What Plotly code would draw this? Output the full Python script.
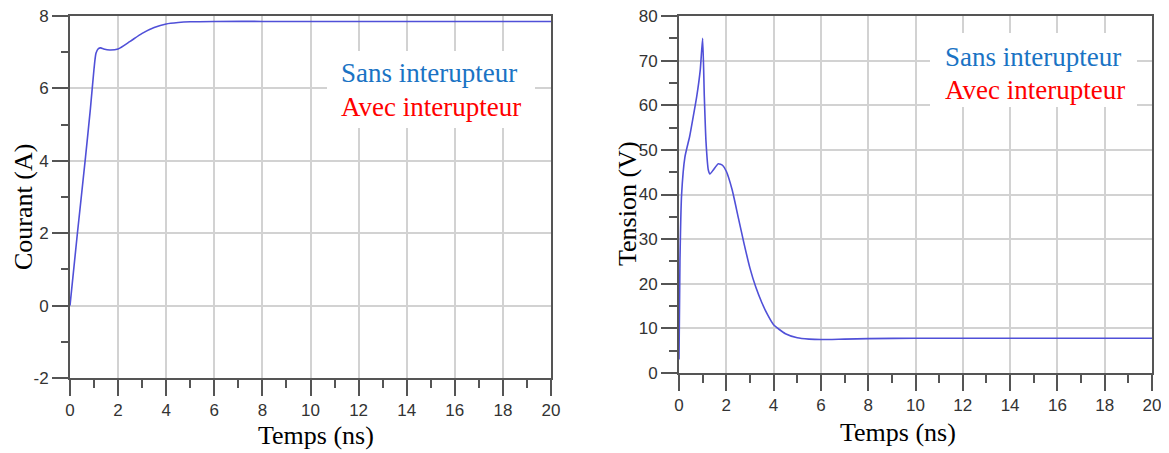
import plotly.graph_objects as go

# courant (left)
courant_t = [0, 0.3, 0.645, 0.85, 1.0, 1.08, 1.18, 1.28, 1.4, 1.65, 2.0, 2.5, 3.0,
             3.5, 4.0, 4.5, 5.0, 6.0, 8.0, 20.0]
courant_a = [0, 1.95, 4.1, 5.45, 6.55, 6.97, 7.1, 7.12, 7.09, 7.06, 7.09, 7.3, 7.52,
             7.68, 7.78, 7.82, 7.84, 7.85, 7.85, 7.85]

# tension (right)
tension_t = [0, 0.04, 0.11, 0.25, 0.45, 0.6, 0.75, 0.9, 1.0, 1.07, 1.14, 1.24, 1.31,
             1.45, 1.66, 1.85, 2.0, 2.25, 2.5, 2.75, 3.0, 3.25, 3.5, 3.75, 4.0, 4.5,
             5.0, 5.5, 6.0, 7.0, 8.0, 10.0, 20.0]
tension_v = [3, 25, 40, 48.4, 53, 57.4, 62, 68, 75, 62, 52, 45.5, 44.6,
             45.5, 46.9, 46.5, 45.2, 41, 35.0, 29.0, 23.5, 19.2, 15.8, 13.0, 10.8, 8.8,
             7.9, 7.6, 7.5, 7.6, 7.7, 7.8, 7.8]

courant_ticks = [-2, 0, 2, 4, 6, 8]
courant_ticktext = ["-2", "0", "2", "4", "6", "8"]

legend_lines = ["Sans interupteur", "Avec interupteur"]
legend_colors = ["#1a73c4", "#ff0000"]

# the page body has an 8px margin, so the figure is drawn from (8, 8)
OFF = 8
W, H = 1169 - OFF, 453 - OFF
LINE = "#5050d8"
SERIF = "Liberation Serif, Times New Roman, serif"
SANS = "Liberation Sans, Arial, sans-serif"


def px_x(p):
    return (p - OFF) / W


def px_y(p):
    return 1 - (p - OFF) / H


fig = go.Figure()
fig.add_trace(go.Scatter(x=courant_t, y=courant_a, mode="lines",
                         line=dict(color=LINE, width=1.6, shape="spline", smoothing=0.6),
                         xaxis="x", yaxis="y", showlegend=False))
fig.add_trace(go.Scatter(x=tension_t, y=tension_v, mode="lines",
                         line=dict(color=LINE, width=1.6, shape="spline", smoothing=0.5),
                         xaxis="x2", yaxis="y2", showlegend=False))

common = dict(showgrid=True, gridcolor="#d2d2d2", gridwidth=1.5, zeroline=False,
              showline=True, linecolor="#555555", linewidth=2, mirror=True,
              automargin=False, ticklabeloverflow="allow",
              ticks="outside", ticklen=16, tickwidth=2, tickcolor="#555555",
              tickfont=dict(family=SANS, size=17, color="#333333"))


def minor(length):
    return dict(ticks="outside", ticklen=length, tickwidth=2,
                tickcolor="#555555", showgrid=False)


fig.update_layout(
    width=W, height=H, margin=dict(l=0, r=0, t=0, b=0),
    paper_bgcolor="white", plot_bgcolor="white",
    xaxis=dict(domain=[px_x(70), px_x(551)], range=[0, 20], dtick=2, anchor="y",
               minor=dict(dtick=1, **minor(8)), **common),
    yaxis=dict(domain=[px_y(378), px_y(16)], range=[-2, 8], anchor="x",
               tickvals=courant_ticks, ticktext=courant_ticktext,
               minor=dict(dtick=1, **minor(7)), **common),
    xaxis2=dict(domain=[px_x(679), px_x(1152)], range=[0, 20], dtick=2, anchor="y2",
                minor=dict(dtick=1, **minor(8)), **common),
    yaxis2=dict(domain=[px_y(373), px_y(16)], range=[0, 80], dtick=10, anchor="x2",
                minor=dict(dtick=5, **minor(8)), **common),
)

# white boxes behind the legend texts
for x0, x1, y0, y1 in [(327, 535, 51, 128), (930, 1137, 33, 107)]:
    fig.add_shape(type="rect", xref="paper", yref="paper",
                  x0=px_x(x0), x1=px_x(x1), y0=px_y(y1), y1=px_y(y0),
                  fillcolor="white", line=dict(width=0), layer="above")

for x_left, ys in [(339, (73, 107)), (943, (57, 90))]:
    for txt, col, yc in zip(legend_lines, legend_colors, ys):
        fig.add_annotation(text=txt, xref="paper", yref="paper", x=px_x(x_left),
                           y=px_y(yc), xanchor="left", yanchor="middle", showarrow=False,
                           font=dict(family=SERIF, size=27, color=col))

# axis titles
titles = [("Temps (ns)", 316, 435, 0), ("Temps (ns)", 898, 432, 0),
          ("Courant (A)", 23, 207, -90), ("Tension (V)", 627, 204, -90)]
for txt, x, y, ang in titles:
    fig.add_annotation(text=txt, xref="paper", yref="paper", x=px_x(x), y=px_y(y),
                       xanchor="center", yanchor="middle", showarrow=False, textangle=ang,
                       font=dict(family=SERIF, size=26, color="black"))

fig.write_html("out.html")
